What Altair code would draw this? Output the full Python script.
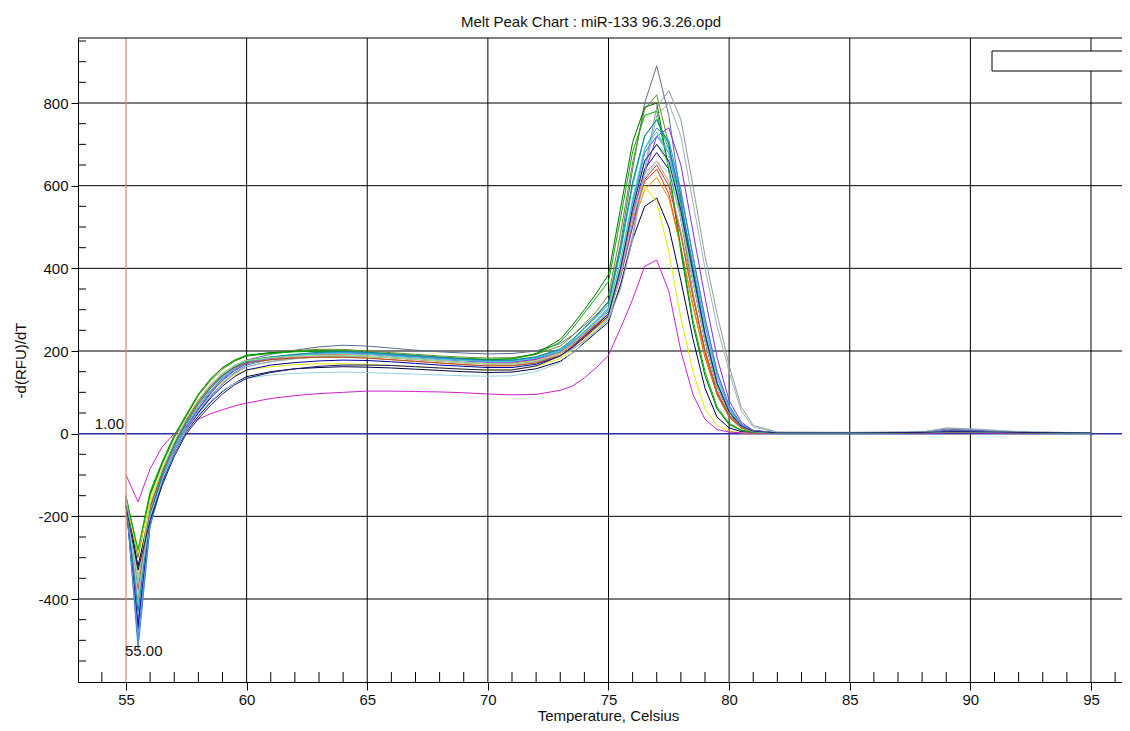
import altair as alt
import pandas as pd

FONT = "Liberation Sans"

# temperature grid (deg C)
temps = [55, 55.5, 56, 56.5, 57, 57.5, 58, 58.5, 59, 59.5, 60,
         61, 62, 63, 64, 65, 66, 67, 68, 69, 70, 71, 72,
         73, 73.5, 74, 74.5, 75, 75.5, 76, 76.5, 77, 77.5, 78, 78.5, 79, 79.5, 80, 80.5, 81, 82,
         85, 88, 89, 90, 92, 95]

# -d(RFU)/dT per well
w01 = [-150, -480, -215, -120, -45, 15, 60, 100, 135, 160, 178,
       192, 202, 210, 214, 212, 207, 202, 198, 195, 193, 194, 200,
       218, 238, 262, 288, 320, 460, 640, 800, 890, 770, 570, 380, 225, 115, 50, 18, 6, 2,
       2, 4, 11, 9, 3, 2]
w02 = [-165, -300, -150, -75, -10, 42, 92, 128, 156, 175, 188,
       196, 201, 204, 204, 200, 196, 192, 188, 185, 183, 184, 192,
       212, 236, 266, 296, 335, 485, 655, 785, 820, 700, 520, 340, 195, 95, 40, 14, 5, 2,
       2, 3, 6, 5, 3, 2]
w03 = [-160, -380, -195, -110, -45, 10, 52, 90, 120, 145, 162,
       175, 182, 186, 188, 187, 184, 180, 176, 172, 170, 170, 175,
       190, 205, 225, 250, 280, 360, 480, 640, 790, 830, 760, 600, 430, 290, 165, 65, 20, 4,
       3, 4, 13, 11, 4, 2]
w04 = [-150, -290, -145, -70, -5, 45, 95, 132, 160, 178, 190,
       196, 199, 200, 199, 196, 192, 188, 184, 181, 179, 181, 194,
       228, 262, 300, 340, 385, 545, 705, 790, 800, 640, 440, 265, 140, 60, 22, 8, 3, 1,
       1, 2, 4, 4, 2, 1]
w05 = [-165, -450, -200, -105, -35, 22, 68, 105, 135, 158, 174,
       184, 190, 194, 195, 193, 189, 185, 181, 178, 176, 176, 184,
       202, 225, 255, 282, 312, 440, 600, 720, 760, 690, 540, 370, 225, 115, 52, 18, 6, 2,
       2, 3, 5, 5, 3, 2]
w06 = [-170, -500, -220, -115, -42, 15, 58, 96, 128, 152, 170,
       182, 190, 195, 197, 195, 191, 187, 183, 180, 177, 177, 184,
       200, 220, 245, 272, 300, 410, 560, 690, 740, 710, 590, 430, 280, 150, 65, 22, 7, 2,
       2, 3, 6, 6, 3, 2]
w07 = [-155, -520, -225, -120, -48, 10, 52, 90, 122, 148, 166,
       180, 188, 193, 195, 193, 189, 185, 181, 177, 174, 174, 182,
       198, 218, 242, 268, 296, 400, 550, 680, 720, 690, 580, 430, 280, 150, 68, 24, 8, 2,
       2, 3, 6, 6, 3, 2]
w08 = [-160, -440, -190, -95, -28, 28, 74, 110, 138, 158, 172,
       180, 185, 188, 189, 187, 184, 180, 176, 172, 170, 170, 177,
       195, 215, 240, 265, 290, 400, 540, 660, 700, 670, 560, 410, 260, 135, 60, 20, 6, 2,
       2, 3, 5, 5, 3, 2]
w09 = [-175, -350, -175, -90, -22, 35, 82, 118, 146, 165, 178,
       185, 189, 191, 191, 188, 184, 180, 176, 172, 169, 170, 178,
       196, 216, 240, 265, 290, 390, 520, 610, 640, 580, 450, 310, 185, 95, 40, 14, 5, 2,
       2, 3, 5, 5, 3, 2]
w10 = [-170, -330, -170, -88, -22, 33, 78, 114, 141, 160, 172,
       179, 183, 185, 185, 183, 179, 175, 171, 167, 164, 165, 172,
       190, 210, 235, 260, 285, 380, 505, 590, 620, 570, 450, 310, 190, 100, 42, 15, 5, 2,
       2, 3, 5, 5, 3, 2]
w11 = [-165, -320, -190, -110, -48, 5, 42, 75, 102, 122, 138,
       150, 157, 160, 162, 161, 159, 156, 153, 150, 148, 149, 157,
       175, 195, 220, 245, 270, 360, 470, 550, 570, 500, 370, 230, 110, 40, 14, 5, 2, 1,
       1, 2, 4, 4, 2, 1]
w12 = [-170, -290, -160, -85, -25, 28, 68, 100, 125, 142, 154,
       162, 167, 169, 169, 168, 165, 162, 159, 156, 154, 155, 163,
       182, 202, 228, 255, 282, 390, 520, 600, 560, 440, 280, 150, 60, 20, 6, 2, 1, 1,
       1, 2, 3, 3, 2, 1]
w13 = [-100, -165, -85, -32, 0, 20, 35, 48, 58, 67, 74,
       85, 92, 97, 100, 103, 103, 102, 101, 99, 96, 94, 95,
       105, 115, 135, 160, 190, 255, 325, 405, 420, 345, 200, 95, 35, 10, 4, 2, 1, 1,
       1, 1, 2, 2, 1, 1]
w14 = [-160, -460, -210, -112, -42, 15, 60, 98, 130, 154, 170,
       182, 189, 193, 194, 192, 188, 184, 180, 176, 173, 173, 180,
       195, 213, 236, 262, 290, 380, 500, 630, 720, 740, 650, 490, 330, 185, 80, 28, 8, 2,
       2, 3, 8, 7, 3, 2]
w15 = [-155, -410, -185, -92, -26, 30, 77, 114, 143, 164, 177,
       185, 190, 193, 194, 192, 188, 184, 180, 177, 175, 175, 183,
       200, 222, 248, 275, 305, 420, 570, 690, 730, 680, 550, 390, 235, 120, 52, 18, 6, 2,
       2, 3, 5, 5, 3, 2]
w16 = [-170, -470, -210, -115, -45, 10, 50, 86, 115, 138, 154,
       166, 172, 176, 178, 177, 174, 170, 166, 163, 160, 160, 168,
       188, 208, 232, 258, 285, 390, 530, 640, 680, 640, 520, 370, 225, 115, 50, 17, 5, 2,
       2, 3, 5, 5, 3, 2]
w17 = [-165, -400, -185, -95, -28, 28, 74, 110, 139, 159, 172,
       180, 185, 188, 189, 187, 183, 179, 175, 171, 168, 168, 176,
       194, 214, 238, 264, 290, 395, 530, 630, 660, 610, 490, 340, 205, 105, 45, 15, 5, 2,
       2, 3, 5, 5, 3, 2]
w18 = [-155, -280, -140, -68, -4, 46, 96, 132, 159, 177, 188,
       194, 198, 200, 200, 197, 193, 189, 185, 182, 180, 181, 192,
       222, 254, 292, 330, 368, 522, 682, 770, 780, 640, 450, 275, 150, 65, 25, 9, 3, 1,
       1, 2, 4, 4, 2, 1]
w19 = [-150, -360, -185, -100, -40, 12, 54, 92, 122, 146, 162,
       174, 181, 186, 188, 187, 184, 180, 176, 172, 169, 169, 174,
       188, 204, 224, 248, 276, 350, 470, 630, 770, 800, 720, 560, 400, 260, 150, 55, 16, 3,
       3, 4, 14, 12, 5, 2]
w20 = [-165, -490, -215, -112, -40, 18, 64, 102, 133, 156, 172,
       184, 191, 196, 198, 196, 192, 188, 184, 180, 177, 177, 185,
       202, 222, 247, 273, 302, 415, 560, 680, 720, 680, 560, 410, 265, 140, 62, 21, 7, 2,
       2, 3, 6, 6, 3, 2]
w21 = [-175, -380, -180, -92, -25, 32, 78, 114, 141, 160, 172,
       179, 183, 185, 185, 183, 179, 175, 171, 167, 164, 164, 171,
       189, 209, 233, 258, 284, 385, 515, 615, 650, 600, 480, 330, 200, 100, 44, 15, 5, 2,
       2, 3, 5, 5, 3, 2]
w22 = [-160, -430, -195, -100, -30, 26, 72, 110, 140, 162, 176,
       186, 192, 197, 199, 197, 193, 189, 185, 181, 178, 178, 186,
       205, 228, 256, 285, 318, 450, 610, 720, 760, 700, 560, 400, 245, 125, 55, 19, 6, 2,
       2, 3, 6, 6, 3, 2]
w23 = [-170, -350, -170, -86, -20, 36, 82, 118, 146, 165, 177,
       184, 188, 190, 190, 188, 184, 180, 176, 172, 169, 169, 177,
       195, 217, 243, 270, 298, 410, 550, 660, 700, 650, 520, 370, 225, 115, 50, 17, 5, 2,
       2, 3, 5, 5, 3, 2]
w24 = [-160, -390, -200, -112, -46, 8, 46, 78, 104, 122, 134,
       142, 146, 148, 149, 148, 146, 144, 142, 140, 139, 140, 150,
       172, 195, 222, 250, 280, 385, 520, 620, 660, 630, 520, 380, 235, 120, 52, 18, 6, 2,
       2, 3, 5, 5, 3, 2]
w25 = [-175, -330, -210, -125, -55, 0, 36, 68, 96, 118, 134,
       148, 157, 163, 166, 166, 165, 162, 159, 156, 154, 154, 164,
       188, 210, 236, 262, 290, 400, 545, 660, 700, 660, 540, 390, 240, 122, 52, 18, 6, 2,
       2, 3, 5, 5, 3, 2]

wells = ["A1", "A2", "A3", "A4", "A5", "A6", "A7", "A8", "A9", "A10", "A11", "A12",
         "B1", "B2", "B3", "B4", "B5", "B6", "B7", "B8", "B9", "B10", "B11", "B12", "C1"]
series = [w01, w02, w03, w04, w05, w06, w07, w08, w09, w10, w11, w12, w13,
          w14, w15, w16, w17, w18, w19, w20, w21, w22, w23, w24, w25]
colors = ["#5a6f8a", "#6b8e23", "#8c9c9c", "#007000", "#20b2aa", "#1e90ff", "#4682b4",
          "#87ceeb", "#ff2a00", "#ff8c00", "#000040", "#e8e800", "#d020d0", "#8a2be2",
          "#40e0d0", "#0000a0", "#f08080", "#00b000", "#a0b0c0", "#6495ed", "#a0522d",
          "#008b8b", "#90ee90", "#9ad0e0", "#191970"]

x_major = [55, 60, 65, 70, 75, 80, 85, 90, 95]
x_grid = [60, 65, 70, 75, 80, 85, 90, 95]
x_minor = [t for t in range(54, 97) if t % 5 != 0]
y_major = [-400, -200, 0, 200, 400, 600, 800]
y_grid = [-400, -200, 200, 400, 600, 800]
y_minor = [v for v in range(-550, 951, 50) if v % 200 != 0]

title_text = "Melt Peak Chart : miR-133 96.3.26.opd"
threshold_label = "1.00"
start_label = "55.00"
start_temp = 55
threshold = 0

rows = []
for name, vals in zip(wells, series):
    assert len(vals) == len(temps)
    for t, v in zip(temps, vals):
        rows.append({"well": name, "temp": t, "value": v})
df = pd.DataFrame(rows)

W, H = 1044, 644
xs = alt.Scale(domain=[53.0104, 96.285], nice=False, zero=False)
ys = alt.Scale(domain=[-600.8, 957.3], nice=False, zero=False)

x_axis = alt.Axis(
    values=x_major, grid=False, tickSize=8, tickColor="black", tickWidth=1,
    domainColor="black", domainWidth=1, labelFont=FONT, labelFontSize=15,
    labelColor="#111", labelPadding=2, labelFlush=False,
    labelExpr="'' + datum.value",
    title="Temperature, Celsius", titleFont=FONT, titleFontSize=15,
    titleFontWeight="normal", titleColor="#111", titleX=530, titleY=33,
    titleBaseline="middle")
y_axis = alt.Axis(
    values=y_major, grid=False, tickSize=7, tickColor="black", tickWidth=1,
    domainColor="black", domainWidth=1, labelFont=FONT, labelFontSize=15,
    labelColor="#111", labelPadding=3, labelFlush=False,
    labelExpr="'' + datum.value",
    title="-d(RFU)/dT", titleFont=FONT, titleFontSize=15,
    titleFontWeight="normal", titleColor="#111", titleX=-58, titleY=H / 2,
    titleBaseline="middle")


def X(field):
    return alt.X(field, scale=xs, axis=x_axis, title="Temperature, Celsius")


def Y(field):
    return alt.Y(field, scale=ys, axis=y_axis, title="-d(RFU)/dT")


grid_x = alt.Chart(pd.DataFrame({"t": x_grid})).mark_rule(color="black", strokeWidth=1).encode(
    x=X("t:Q"))
grid_y = alt.Chart(pd.DataFrame({"v": y_grid})).mark_rule(color="black", strokeWidth=1).encode(
    y=Y("v:Q"))
start_line = alt.Chart(pd.DataFrame({"t": [start_temp]})).mark_rule(color="#d9876a", strokeWidth=1.2).encode(
    x=X("t:Q"))
zero_line = alt.Chart(pd.DataFrame({"v": [threshold]})).mark_rule(color="#2e2e9e", strokeWidth=1.5).encode(
    y=Y("v:Q"))

lines = alt.Chart(df).mark_line(strokeWidth=1).encode(
    x=X("temp:Q"),
    y=Y("value:Q"),
    color=alt.Color("well:N", scale=alt.Scale(domain=wells, range=colors), legend=None),
)

minor_x = alt.Chart(pd.DataFrame({"t": x_minor})).mark_rule(color="black", strokeWidth=1).encode(
    x=X("t:Q"), y=alt.value(H), y2=alt.value(H - 10))
minor_y = alt.Chart(pd.DataFrame({"v": y_minor})).mark_rule(color="black", strokeWidth=1).encode(
    y=Y("v:Q"), x=alt.value(0), x2=alt.value(8))

top_border = alt.Chart(pd.DataFrame({"a": [0]})).mark_rule(color="black", strokeWidth=1).encode(
    y=alt.value(0), x=alt.value(0), x2=alt.value(W))

legend_box = alt.Chart(pd.DataFrame({"a": [0]})).mark_rect(
    fill="white", stroke="black", strokeWidth=1).encode(
    x=alt.value(914), x2=alt.value(W + 20), y=alt.value(13), y2=alt.value(33))

thr_text = alt.Chart(pd.DataFrame({"t": [start_temp], "v": [threshold], "s": [threshold_label]})).mark_text(
    align="right", baseline="bottom", dx=-2, dy=-2, font=FONT, fontSize=15, color="#111").encode(
    x=X("t:Q"), y=Y("v:Q"), text="s:N")
start_text = alt.Chart(pd.DataFrame({"t": [start_temp], "v": [-527], "s": [start_label]})).mark_text(
    align="left", baseline="middle", dx=-1, font=FONT, fontSize=15, color="#111").encode(
    x=X("t:Q"), y=Y("v:Q"), text="s:N")

title = alt.Chart(pd.DataFrame({"s": [title_text]})).mark_text(
    align="center", baseline="middle", font=FONT, fontSize=15, color="#111").encode(
    x=alt.value(513), y=alt.value(-16.5), text="s:N")

chart = alt.layer(
    grid_x, grid_y, zero_line, lines, start_line, minor_x, minor_y, top_border,
    legend_box, thr_text, start_text, title
).properties(
    width=W, height=H,
    autosize=alt.AutoSizeParams(type="none"),
    padding={"left": 70, "top": 30, "right": 0, "bottom": 41},
    background="white",
).configure_view(stroke=None)

chart.save("out.html", embed_options={"renderer": "svg", "actions": False})
